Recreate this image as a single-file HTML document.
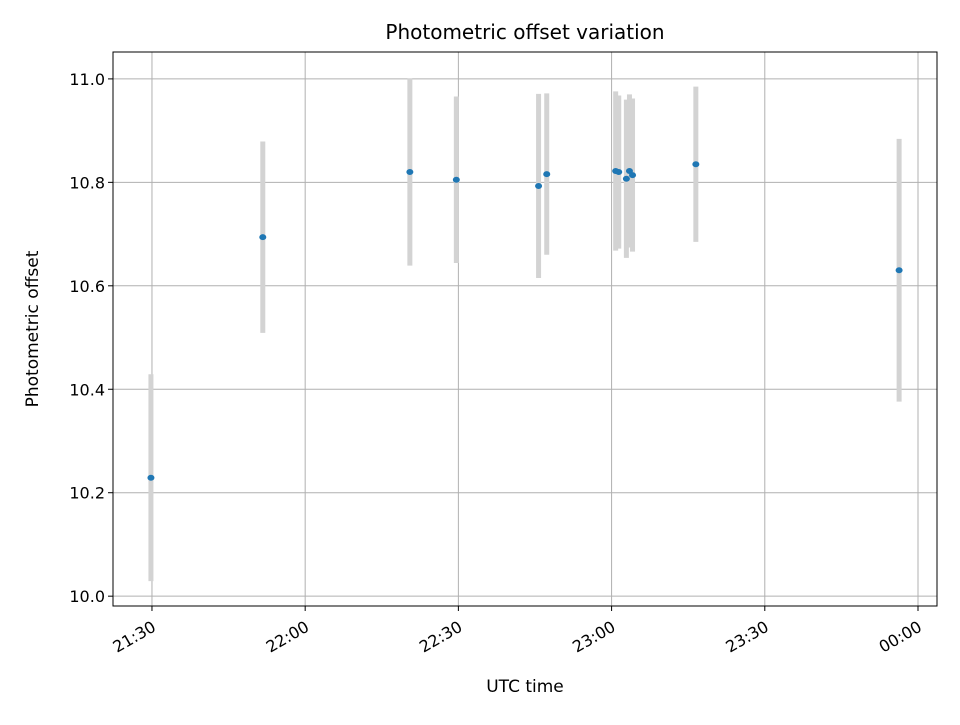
<!DOCTYPE html>
<html><head><meta charset="utf-8"><style>
body{margin:0;background:#fff;}
svg text{font-family:"DejaVu Sans","Liberation Sans",sans-serif;fill:#000;}
</style></head><body>
<svg id="chart" width="960" height="720" xmlns="http://www.w3.org/2000/svg">
<rect width="960" height="720" fill="#fff"/>
<text x="525" y="39" font-size="20" text-anchor="middle">Photometric offset variation</text>
<g id="grid"></g><g id="bars"></g><g id="pts"></g><g id="ticks"></g>
<rect x="113" y="52" width="824" height="554" fill="none" stroke="#000" stroke-width="1"/>
<text x="525" y="692" font-size="17" text-anchor="middle">UTC time</text>
<text transform="translate(38,329) rotate(-90)" font-size="17" text-anchor="middle">Photometric offset</text>
</svg>
<script>
// minutes after 21:00
const times=[29.8,51.7,80.5,89.6,105.7,107.3,120.8,121.4,122.9,123.5,124.1,136.5,176.3];
const offsets=[10.229,10.694,10.820,10.805,10.793,10.816,10.822,10.820,10.807,10.822,10.814,10.835,10.630];
const errors=[0.200,0.185,0.181,0.161,0.178,0.156,0.154,0.148,0.153,0.148,0.148,0.150,0.254];
const xTicks=[30,60,90,120,150,180];
const xTickLabels=["21:30","22:00","22:30","23:00","23:30","00:00"];
const yTicks=[10.0,10.2,10.4,10.6,10.8,11.0];
const yTickLabels=["10.0","10.2","10.4","10.6","10.8","11.0"];

const L=113,R=937,T=52,B=606;
const xMin=22.37,xMax=183.72,yMin=9.981,yMax=11.052;
const xs=v=>L+(v-xMin)/(xMax-xMin)*(R-L);
const ys=v=>B-(v-yMin)/(yMax-yMin)*(B-T);
const NS="http://www.w3.org/2000/svg";
function mk(tag,attrs,parent){const e=document.createElementNS(NS,tag);for(const k in attrs)e.setAttribute(k,attrs[k]);document.getElementById(parent).appendChild(e);return e;}

xTicks.forEach((t,i)=>{
  const x=xs(t);
  const g=mk('line',{x1:x,x2:x,y1:T,y2:B,stroke:'#b0b0b0','stroke-width':1},'grid');
  
  
  const tk=mk('line',{x1:x,x2:x,y1:B,y2:B+5,stroke:'#000'},'ticks');
  
  
  const tx=mk('text',{'font-size':16,'text-anchor':'end',transform:`translate(${x+5},${B+24}) rotate(-30)`},'ticks');
  tx.textContent=xTickLabels[i];
  
  
});
yTicks.forEach((t,i)=>{
  const y=ys(t);
  const g=mk('line',{x1:L,x2:R,y1:y,y2:y,stroke:'#b0b0b0','stroke-width':1},'grid');
  
  
  const tk=mk('line',{x1:L-5,x2:L,y1:y,y2:y,stroke:'#000'},'ticks');
  
  
  const tx=mk('text',{x:L-8,y:y+6,'font-size':16,'text-anchor':'end'},'ticks');
  tx.textContent=yTickLabels[i];
  
  
});
times.forEach((t,i)=>{
  const x=xs(t);
  const b=mk('line',{x1:x,x2:x,y1:ys(offsets[i]-errors[i]),y2:ys(offsets[i]+errors[i]),stroke:'#d3d3d3','stroke-width':5},'bars');
  
  
  const p=mk('ellipse',{cx:x,cy:ys(offsets[i]),rx:3.5,ry:3,fill:'#1f77b4'},'pts');
  
  
});
</script>
</body></html>
